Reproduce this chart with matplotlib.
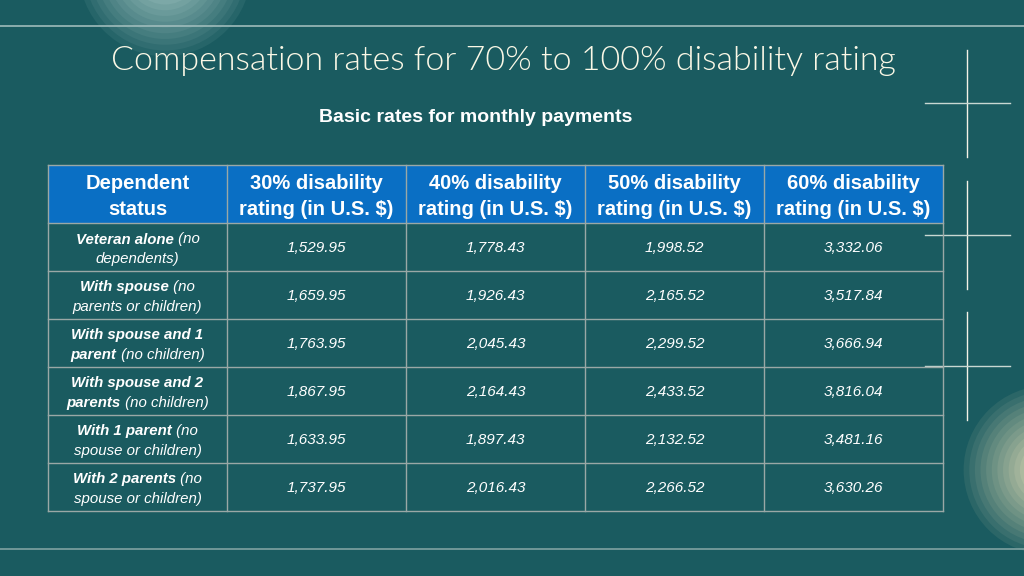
import numpy as np
import matplotlib
matplotlib.use("Agg")
import matplotlib.pyplot as plt
from matplotlib.patches import Rectangle

title = "Compensation rates for 70% to 100% disability rating"
subtitle = "Basic rates for monthly payments"
headers = ["Dependent\nstatus", "30% disability\nrating (in U.S. $)", "40% disability\nrating (in U.S. $)",
           "50% disability\nrating (in U.S. $)", "60% disability\nrating (in U.S. $)"]
# first column: lines of (text, bold) segments
status_labels = [
    [[("Veteran alone", True), (" (no", False)], [("dependents)", False)]],
    [[("With spouse", True), (" (no", False)], [("parents or children)", False)]],
    [[("With spouse and 1", True)], [("parent", True), (" (no children)", False)]],
    [[("With spouse and 2", True)], [("parents", True), (" (no children)", False)]],
    [[("With 1 parent", True), (" (no", False)], [("spouse or children)", False)]],
    [[("With 2 parents", True), (" (no", False)], [("spouse or children)", False)]],
]
rate_30 = [1529.95, 1659.95, 1763.95, 1867.95, 1633.95, 1737.95]
rate_40 = [1778.43, 1926.43, 2045.43, 2164.43, 1897.43, 2016.43]
rate_50 = [1998.52, 2165.52, 2299.52, 2433.52, 2132.52, 2266.52]
rate_60 = [3332.06, 3517.84, 3666.94, 3816.04, 3481.16, 3630.26]

BG = "#1a5b60"
HEAD = "#0a6fc4"
GRID = "#9aa8a6"
FONT = "Liberation Sans"

fig = plt.figure(figsize=(10.24, 5.76), dpi=100)
fig.patch.set_facecolor(BG)
ax = fig.add_axes([0, 0, 1, 1])
ax.set_xlim(0, 1024)
ax.set_ylim(576, 0)
ax.axis("off")
ax.set_facecolor(BG)

def glow(cx, cy, r, inner, steps=16, p=0.9):
    bg = np.array(matplotlib.colors.to_rgb(BG))
    c = np.array(matplotlib.colors.to_rgb(inner))
    for i in range(steps):
        f = i / steps
        rad = r * (1 - f)
        col = bg + (c - bg) * (f ** p)
        ax.add_patch(plt.Circle((cx, cy), rad, color=col, lw=0, zorder=1))

glow(165, -30, 92, "#b0d0cc")
glow(1048, 470, 90, "#e6e0b8")

# decorative lines
ax.plot([0, 1024], [26, 26], color="#9fbcbb", lw=1.2, zorder=2)
ax.plot([0, 1024], [549, 549], color="#7fa3a2", lw=1.2, zorder=2)
for (y0, y1, yh) in [(50, 157, 103), (181, 289, 235), (312, 420, 366)]:
    ax.plot([967, 967], [y0, y1], color="#f4f2e6", lw=1.0, zorder=2)
    ax.plot([925, 1010], [yh, yh], color="#c8d8d2", lw=1.0, zorder=2)

ax.text(503, 61, title, ha="center", va="center", fontsize=24.5, color="#fbf8e6",
        family=["Lato", "DejaVu Sans"], fontweight=300, zorder=5)
ax.text(476, 117, subtitle, ha="center", va="center", fontsize=14, color="white",
        family=FONT, fontweight="bold", zorder=5)

# table geometry
col_x = [48, 227, 406, 585, 764, 943]
row_y = [165, 223, 271, 319, 367, 415, 463, 511]

ax.add_patch(Rectangle((col_x[0], row_y[0]), col_x[-1] - col_x[0], row_y[1] - row_y[0],
                       facecolor=HEAD, edgecolor="none", zorder=3))
for x in col_x:
    ax.plot([x, x], [row_y[0], row_y[-1]], color=GRID, lw=1.0, zorder=4)
for y in row_y:
    ax.plot([col_x[0], col_x[-1]], [y, y], color=GRID, lw=1.0, zorder=4)

for j, h in enumerate(headers):
    cx = (col_x[j] + col_x[j + 1]) / 2
    ax.text(cx, (row_y[0] + row_y[1]) / 2 + 2.5, h, ha="center", va="center", fontsize=14.5,
            color="white", family=FONT, fontweight="bold", linespacing=1.42, zorder=5)

cols = [rate_30, rate_40, rate_50, rate_60]
for i in range(6):
    cy = (row_y[i + 1] + row_y[i + 2]) / 2
    for j, vals in enumerate(cols):
        cx = (col_x[j + 1] + col_x[j + 2]) / 2
        ax.text(cx, cy + 1, f"{vals[i]:,.2f}", ha="center", va="center", fontsize=11,
                color="white", family=FONT, style="italic", zorder=5)

fig.canvas.draw()
renderer = fig.canvas.get_renderer()
for i, lines in enumerate(status_labels):
    cy = (row_y[i + 1] + row_y[i + 2]) / 2
    cx = (col_x[0] + col_x[1]) / 2
    for k, segs in enumerate(lines):
        ly = cy - 7.5 + 19 * k
        objs = []
        for txt, b in segs:
            t = ax.text(0, ly, txt, ha="left", va="center", fontsize=10.8, color="white",
                        family=FONT, style="italic", fontweight="bold" if b else "normal", zorder=5)
            objs.append(t)
        widths = [t.get_window_extent(renderer).width for t in objs]
        total = sum(widths)
        x = cx - total / 2
        for t, w in zip(objs, widths):
            t.set_x(x)
            x += w

fig.savefig("out.png", dpi=100, facecolor=BG)
